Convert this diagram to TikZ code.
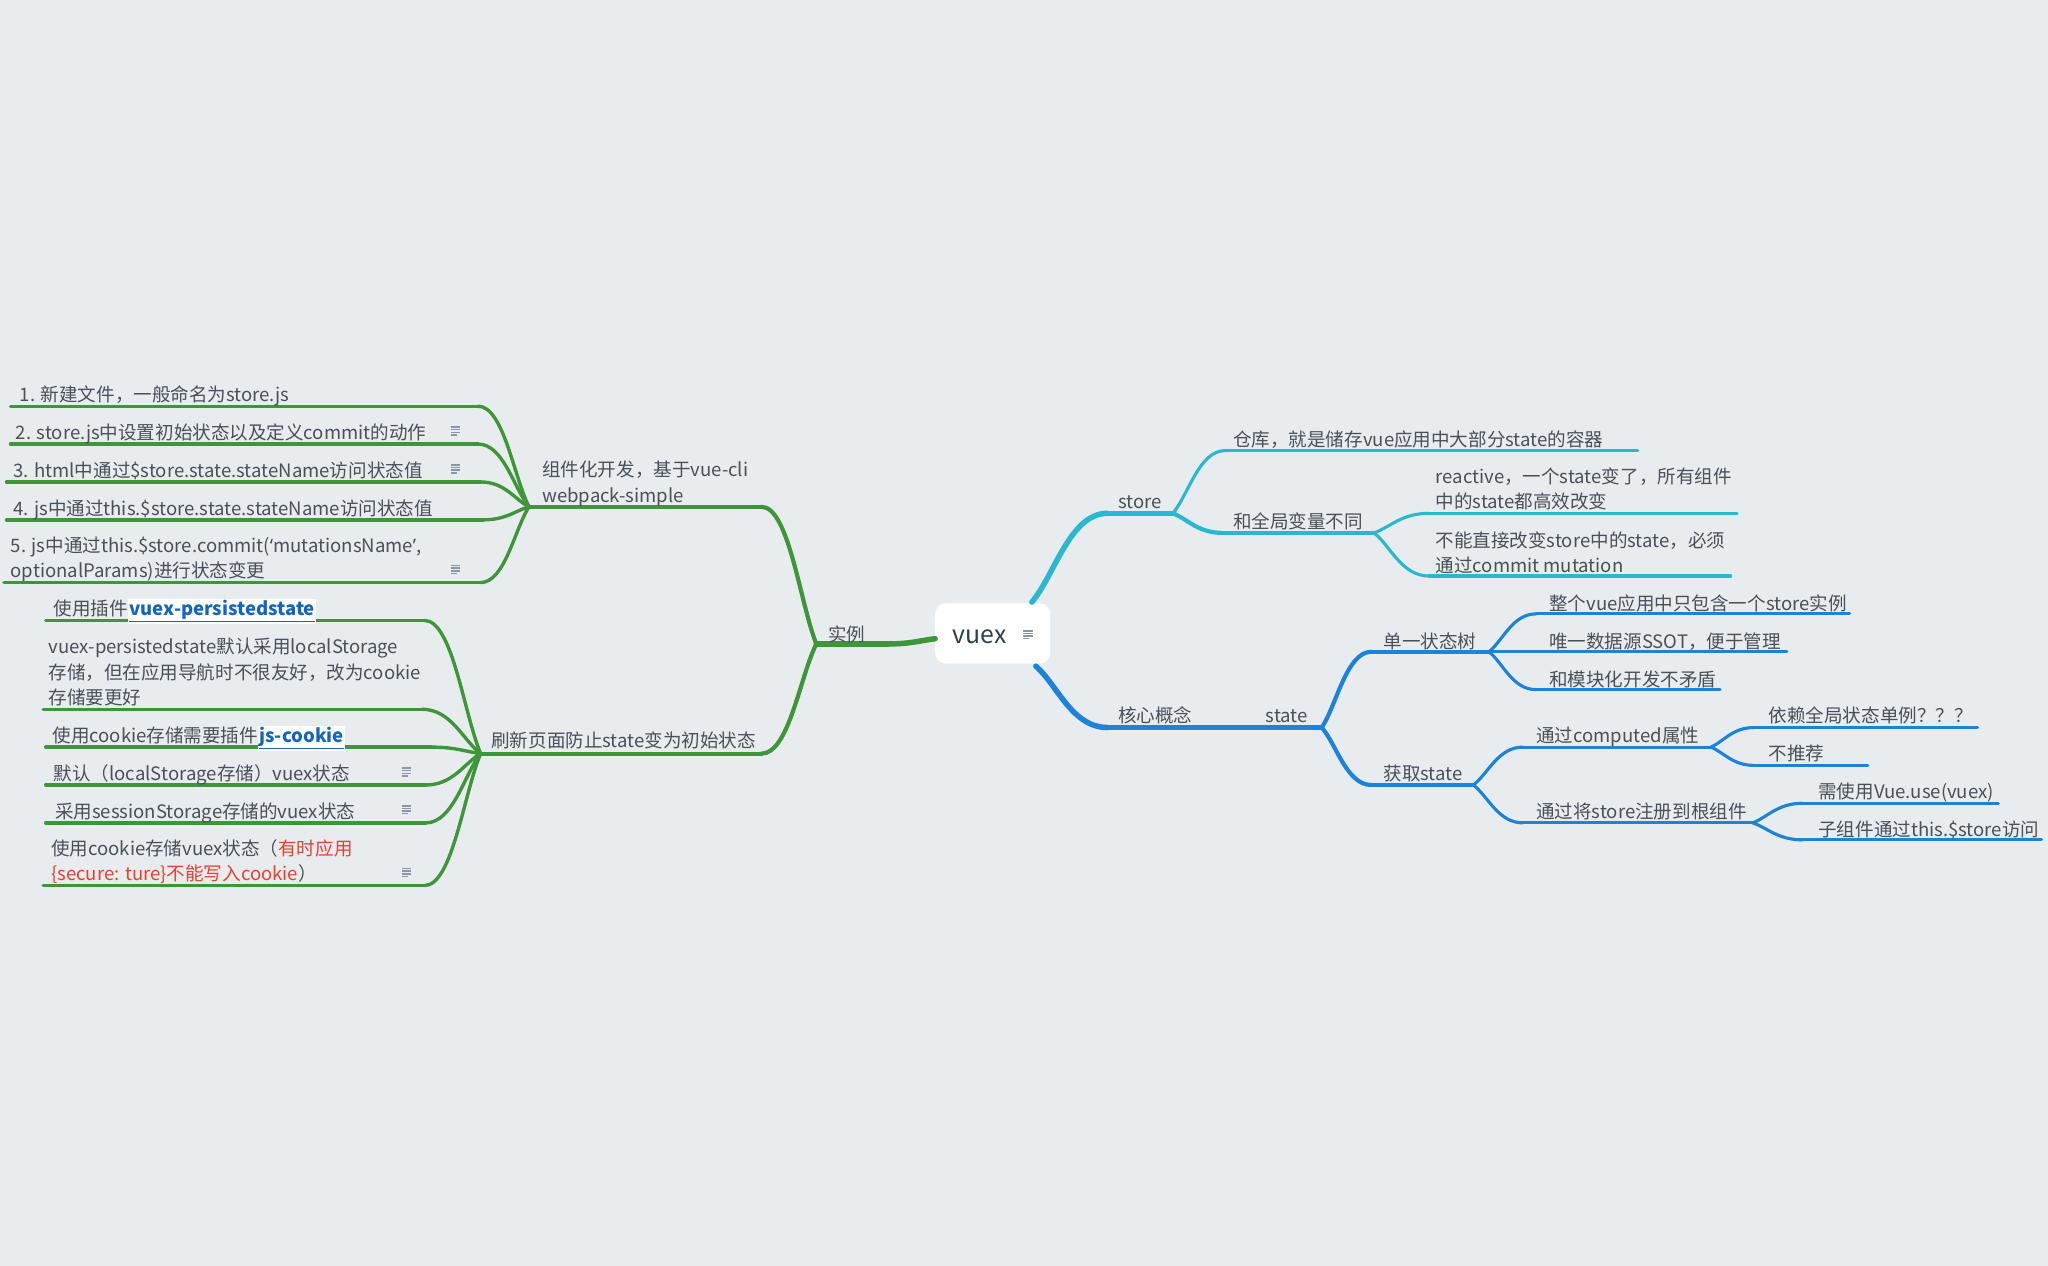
\documentclass[tikz,border=0pt]{standalone}
\usepackage{fontspec}
\setmainfont{Noto Sans CJK SC}
\newfontfamily\latinq{Noto Sans}
\usetikzlibrary{calc}

\definecolor{bg}{RGB}{233,236,239}
\definecolor{grn}{RGB}{61,150,56}
\definecolor{cyn}{RGB}{41,184,208}
\definecolor{blu}{RGB}{27,131,218}
\definecolor{txt}{RGB}{72,80,88}
\definecolor{roottxt}{RGB}{45,62,80}
\definecolor{lnk}{RGB}{21,101,192}
\definecolor{warn}{RGB}{232,64,44}
\definecolor{iconc}{RGB}{140,150,160}

% curved branch: leaves the junction towards the child, ends horizontal
\newcommand\mmlink[3]{%
  \draw[#1] let \p1=(#2), \p2=(#3) in
    (#2) .. controls ($(#2)!0.3!(#3)$) and ({0.5*\x1+0.5*\x2},\y2) .. (#3);}
% small note glyph
\newcommand\noteicon[1]{%
  \draw[iconc, line width=1.1pt]
    ($(#1)+(-3.5,-3)$) -- ++(7,0)
    ($(#1)+(-3.5,-1)$) -- ++(7,0)
    ($(#1)+(-3.5,1)$) -- ++(7,0)
    ($(#1)+(-3.5,3)$) -- ++(4.5,0);}
\newcommand\linkbox[1]{{\setlength\fboxsep{1pt}\colorbox{white}{\color{lnk}\bfseries\underline{#1}}}}

\begin{document}
\begin{tikzpicture}[x=1pt,y=-1pt,
  tx/.style={font=\fontsize{14.2}{19.5}\selectfont, text=txt, inner sep=0pt, anchor=base west, align=left},
  g0/.style={grn, line width=4.2pt, line cap=round},
  g1/.style={grn, line width=3.2pt, line cap=round},
  g2/.style={grn, line width=2.6pt, line cap=round},
  c0/.style={cyn, line width=4.2pt, line cap=round},
  c1/.style={cyn, line width=3.2pt, line cap=round},
  c2/.style={cyn, line width=2.4pt, line cap=round},
  b0/.style={blu, line width=4.2pt, line cap=round},
  b1/.style={blu, line width=3.2pt, line cap=round},
  b2/.style={blu, line width=2.4pt, line cap=round}]

\fill[bg] (0,0) rectangle (1568,969);
\useasboundingbox (0,0) rectangle (1568,969);

% ---------- root ----------
\node[fill=white, rounded corners=8pt, minimum width=88pt, minimum height=46pt, inner sep=0pt] (root) at (760,485) {};
\node[font=\fontsize{19}{20}\selectfont, text=roottxt, anchor=base west, inner sep=0pt] (rootlbl) at (729,493) {vuex};
\coordinate (rootnote) at (787,486);
\noteicon{rootnote}

% ---------- anchor points ----------
\coordinate (gst) at (716,489);
\coordinate (ex-r) at (680,493);  \coordinate (ex-l) at (625,493);
\coordinate (dev-r) at (583,388); \coordinate (dev-l) at (405,388);
\coordinate (ref-r) at (583,577); \coordinate (ref-l) at (368,577);
\coordinate (d1-r) at (366,311); \coordinate (d1-l) at (8,311);
\coordinate (d2-r) at (366,340); \coordinate (d2-l) at (8,340);
\coordinate (d3-r) at (368,369); \coordinate (d3-l) at (5,369);
\coordinate (d4-r) at (370,398); \coordinate (d4-l) at (5,398);
\coordinate (d5-r) at (368,446); \coordinate (d5-l) at (3,446);
\coordinate (r1-r) at (325,475); \coordinate (r1-l) at (35,475);
\coordinate (r2-r) at (323,543); \coordinate (r2-l) at (33,543);
\coordinate (r3-r) at (330,572); \coordinate (r3-l) at (35,572);
\coordinate (r4-r) at (326,601); \coordinate (r4-l) at (35,601);
\coordinate (r5-r) at (326,630); \coordinate (r5-l) at (35,630);
\coordinate (r6-r) at (325,678); \coordinate (r6-l) at (33,678);

\coordinate (cst) at (790,461);
\coordinate (st-l) at (848,393);  \coordinate (st-r) at (898,393);
\coordinate (wh-l) at (938,345);  \coordinate (wh-r) at (1254,345);
\coordinate (gv-l) at (936,408);  \coordinate (gv-r) at (1052,408);
\coordinate (re-l) at (1094,393); \coordinate (re-r) at (1330,393);
\coordinate (nc-l) at (1094,441); \coordinate (nc-r) at (1325,441);

\coordinate (bst) at (793,510);
\coordinate (co-l) at (848,557);  \coordinate (co-r) at (918,557);
\coordinate (sa-r) at (1012,557);
\coordinate (tr-l) at (1050,499); \coordinate (tr-r) at (1140,499);
\coordinate (gs-l) at (1050,601); \coordinate (gs-r) at (1128,601);
\coordinate (t1-l) at (1176,470); \coordinate (t1-r) at (1416,470);
\coordinate (t2-l) at (1178,499); \coordinate (t2-r) at (1368,499);
\coordinate (t3-l) at (1176,528); \coordinate (t3-r) at (1317,528);
\coordinate (cp-l) at (1166,572); \coordinate (cp-r) at (1310,572);
\coordinate (rg-l) at (1166,630); \coordinate (rg-r) at (1342,630);
\coordinate (p1-l) at (1343,557); \coordinate (p1-r) at (1514,557);
\coordinate (p2-l) at (1343,586); \coordinate (p2-r) at (1430,586);
\coordinate (u1-l) at (1380,615); \coordinate (u1-r) at (1530,615);
\coordinate (u2-l) at (1380,643); \coordinate (u2-r) at (1563,643);

% ---------- green branch ----------
\mmlink{g0}{gst}{ex-r}
\draw[g0] (ex-r) -- (ex-l);
\mmlink{g1}{ex-l}{dev-r} \draw[g1] (dev-r) -- (dev-l);
\mmlink{g1}{ex-l}{ref-r} \draw[g1] (ref-r) -- (ref-l);
\foreach \k in {d1,d2,d3,d4,d5}{
  \mmlink{g2}{dev-l}{\k-r} \draw[g2] (\k-r) -- (\k-l);}
\foreach \k in {r1,r2,r3,r4,r5,r6}{
  \mmlink{g2}{ref-l}{\k-r} \draw[g2] (\k-r) -- (\k-l);}

% ---------- cyan branch ----------
\mmlink{c0}{cst}{st-l}
\draw[c0] (st-l) -- (st-r);
\mmlink{c2}{st-r}{wh-l} \draw[c2] (wh-l) -- (wh-r);
\mmlink{c1}{st-r}{gv-l} \draw[c1] (gv-l) -- (gv-r);
\mmlink{c2}{gv-r}{re-l} \draw[c2] (re-l) -- (re-r);
\mmlink{c2}{gv-r}{nc-l} \draw[c2] (nc-l) -- (nc-r);

% ---------- blue branch ----------
\mmlink{b0}{bst}{co-l}
\draw[b0] (co-l) -- (co-r);
\draw[b1] (co-r) -- (sa-r);
\mmlink{b1}{sa-r}{tr-l} \draw[b1] (tr-l) -- (tr-r);
\mmlink{b1}{sa-r}{gs-l} \draw[b1] (gs-l) -- (gs-r);
\mmlink{b2}{tr-r}{t1-l} \draw[b2] (t1-l) -- (t1-r);
\mmlink{b2}{tr-r}{t2-l} \draw[b2] (t2-l) -- (t2-r);
\mmlink{b2}{tr-r}{t3-l} \draw[b2] (t3-l) -- (t3-r);
\mmlink{b2}{gs-r}{cp-l} \draw[b2] (cp-l) -- (cp-r);
\mmlink{b2}{gs-r}{rg-l} \draw[b2] (rg-l) -- (rg-r);
\mmlink{b2}{cp-r}{p1-l} \draw[b2] (p1-l) -- (p1-r);
\mmlink{b2}{cp-r}{p2-l} \draw[b2] (p2-l) -- (p2-r);
\mmlink{b2}{rg-r}{u1-l} \draw[b2] (u1-l) -- (u1-r);
\mmlink{b2}{rg-r}{u2-l} \draw[b2] (u2-l) -- (u2-r);

% ---------- labels: left (base = baseline of the last line) ----------
\node[tx] (ex) at (634,491.5) {实例};
\node[tx] (dev) at (415,384.5) {组件化开发，基于vue-cli\\webpack-simple};
\node[tx] (d1) at (15,307.5) {1. 新建文件，一般命名为store.js};
\node[tx] (d2) at (12,336.5) {2. store.js中设置初始状态以及定义commit的动作};
\node[tx] (d3) at (10,365.5) {3. html中通过\$store.state.stateName访问状态值};
\node[tx] (d4) at (10,394.5) {4. js中通过this.\$store.state.stateName访问状态值};
\node[tx] (d5) at (8,442.5) {5. js中通过this.\$store.commit({\latinq ‘}mutationsName{\latinq ’},\\optionalParams)进行状态变更};
\node[tx] (ref) at (376,572.5) {刷新页面防止state变为初始状态};
\node[tx] (r1) at (41,471.5) {使用插件\linkbox{vuex-persistedstate}};
\node[tx] (r2) at (37,539.5) {vuex-persistedstate默认采用localStorage\\存储，但在应用导航时不很友好，改为cookie\\存储要更好};
\node[tx] (r3) at (40,568.5) {使用cookie存储需要插件\linkbox{js-cookie}};
\node[tx] (r4) at (41,597.5) {默认（localStorage存储）vuex状态};
\node[tx] (r5) at (42,626.5) {采用sessionStorage存储的vuex状态};
\node[tx] (r6) at (39,674.5) {使用cookie存储vuex状态（{\color{warn}有时应用}\\{\color{warn}\{secure: ture\}不能写入cookie}）};

\coordinate (n-d2) at (349,330); \noteicon{n-d2}
\coordinate (n-d3) at (349,359); \noteicon{n-d3}
\coordinate (n-d5) at (349,436); \noteicon{n-d5}
\coordinate (n-r4) at (311,591); \noteicon{n-r4}
\coordinate (n-r5) at (311,620); \noteicon{n-r5}
\coordinate (n-r6) at (311,668); \noteicon{n-r6}

% ---------- labels: right ----------
\node[tx] (st) at (856,389.5) {store};
\node[tx] (wh) at (944,341.5) {仓库，就是储存vue应用中大部分state的容器};
\node[tx] (gv) at (944,404.5) {和全局变量不同};
\node[tx] (re) at (1099,389.5) {reactive，一个state变了，所有组件\\中的state都高效改变};
\node[tx] (nc) at (1099,438.5) {不能直接改变store中的state，必须\\通过commit mutation};
\node[tx] (co) at (856,553.5) {核心概念};
\node[tx] (sa) at (969,553.5) {state};
\node[tx] (tr) at (1059,496.5) {单一状态树};
\node[tx] (gs) at (1059,597.5) {获取state};
\node[tx] (t1) at (1186,467.5) {整个vue应用中只包含一个store实例};
\node[tx] (t2) at (1186,496.5) {唯一数据源SSOT，便于管理};
\node[tx] (t3) at (1186,525.5) {和模块化开发不矛盾};
\node[tx] (cp) at (1176,568.5) {通过computed属性};
\node[tx] (rg) at (1176,626.5) {通过将store注册到根组件};
\node[tx] (p1) at (1354,553.5) {依赖全局状态单例？？？};
\node[tx] (p2) at (1354,582.5) {不推荐};
\node[tx] (u1) at (1392,611.5) {需使用Vue.use(vuex)};
\node[tx] (u2) at (1392,640.5) {子组件通过this.\$store访问};
\end{tikzpicture}
\end{document}
